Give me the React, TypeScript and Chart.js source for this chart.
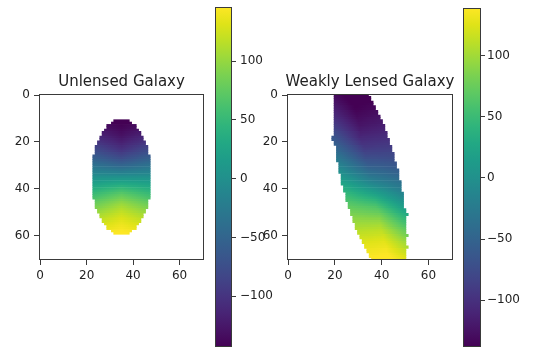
import React, { useEffect, useRef } from "react";
import { Chart, registerables } from "chart.js";

Chart.register(...registerables);

// ---------- data ----------
const axisTicks = [0, 20, 40, 60];
const colorbarTicks = [-100, -50, 0, 50, 100];
const unlensedRange = [-143.2, 146.0];
const lensedRange = [-138.5, 139.3];

// Unlensed galaxy: one entry per image row (pixel columns start..end, values at edges / centre)
const unlensedRows = [11, 12, 13, 14, 15, 16, 17, 18, 19, 20, 21, 22, 23, 24, 25, 26, 27, 28, 29, 30, 31, 32, 33, 34, 35, 36, 37, 38, 39, 40, 41, 42, 43, 44, 45, 46, 47, 48, 49, 50, 51, 52, 53, 54, 55, 56, 57, 58, 59];
const unlensedStart = [32, 31, 29, 29, 28, 27, 27, 26, 26, 25, 25, 24, 24, 24, 24, 23, 23, 23, 23, 23, 23, 23, 23, 23, 23, 23, 23, 23, 23, 23, 23, 23, 23, 23, 24, 24, 24, 24, 25, 25, 26, 26, 27, 27, 28, 29, 29, 31, 32];
const unlensedEnd = [38, 39, 41, 41, 42, 43, 43, 44, 44, 45, 45, 46, 46, 46, 46, 47, 47, 47, 47, 47, 47, 47, 47, 47, 47, 47, 47, 47, 47, 47, 47, 47, 47, 47, 46, 46, 46, 46, 45, 45, 44, 44, 43, 43, 42, 41, 41, 39, 38];
const unlensedEdge = [-145, -142, -136, -133, -128, -122, -119, -112, -108, -101, -96, -88, -83, -77, -71, -62, -56, -50, -43, -36, -29, -22, -15, -8, 0, 8, 15, 22, 29, 36, 43, 50, 56, 62, 71, 77, 83, 88, 96, 101, 108, 112, 119, 122, 128, 133, 136, 142, 145];
const unlensedMid = [-147, -145, -142, -140, -137, -134, -131, -127, -123, -119, -114, -109, -104, -98, -91, -84, -77, -69, -60, -51, -41, -31, -21, -11, 0, 11, 21, 31, 41, 51, 60, 69, 77, 84, 91, 98, 104, 109, 114, 119, 123, 127, 131, 134, 137, 140, 142, 145, 147];

// Weakly lensed galaxy
const lensedRows = [0, 1, 2, 3, 4, 5, 6, 7, 8, 9, 10, 11, 12, 13, 14, 15, 16, 17, 18, 19, 20, 21, 22, 23, 24, 25, 26, 27, 28, 29, 30, 31, 32, 33, 34, 35, 36, 37, 38, 39, 40, 41, 42, 43, 44, 45, 46, 47, 48, 49, 50, 51, 52, 53, 54, 55, 56, 57, 58, 59, 60, 61, 62, 63, 64, 65, 66, 67, 68, 69, 70];
const lensedStart = [20, 20, 20, 20, 20, 20, 20, 20, 20, 20, 20, 20, 20, 20, 20, 20, 20, 20, 19, 19, 20, 20, 21, 21, 21, 21, 21, 21, 21, 22, 22, 22, 22, 22, 23, 23, 23, 23, 23, 24, 24, 24, 25, 25, 25, 25, 26, 26, 26, 27, 27, 27, 28, 28, 28, 29, 29, 29, 30, 30, 31, 31, 32, 32, 33, 33, 34, 34, 35, 35, 36];
const lensedEnd = [34, 35, 35, 36, 36, 37, 37, 38, 38, 39, 39, 40, 40, 41, 41, 41, 42, 42, 42, 43, 43, 43, 44, 44, 44, 45, 45, 45, 45, 46, 46, 46, 47, 47, 47, 47, 47, 48, 48, 48, 48, 48, 49, 49, 49, 49, 49, 49, 49, 50, 50, 51, 50, 50, 50, 50, 50, 50, 50, 50, 51, 50, 50, 50, 50, 51, 50, 50, 50, 50, 50];
const lensedLeft = [-132, -130, -127, -125, -122, -119, -116, -112, -109, -106, -102, -98, -94, -90, -86, -82, -77, -73, -64, -60, -59, -54, -53, -48, -44, -38, -33, -28, -23, -21, -16, -11, -6, -1, 2, 8, 13, 19, 25, 29, 34, 39, 44, 49, 54, 58, 63, 67, 72, 76, 80, 84, 88, 92, 95, 99, 102, 105, 109, 112, 115, 118, 122, 124, 127, 129, 132, 134, 136, 138, 141];
const lensedMid = [-146, -145, -144, -142, -141, -139, -138, -136, -134, -132, -130, -128, -125, -124, -120, -118, -115, -112, -108, -105, -101, -98, -95, -91, -86, -82, -77, -72, -66, -63, -57, -51, -46, -40, -35, -28, -21, -16, -9, -3, 5, 13, 18, 26, 34, 42, 48, 56, 63, 67, 73, 78, 84, 90, 95, 99, 104, 108, 112, 115, 118, 122, 125, 128, 130, 132, 135, 137, 139, 141, 142];
const lensedRight = [-143, -141, -140, -138, -136, -134, -133, -129, -128, -125, -123, -120, -119, -115, -113, -111, -108, -105, -103, -100, -97, -94, -91, -88, -85, -81, -78, -75, -72, -67, -64, -60, -56, -53, -49, -45, -40, -37, -32, -28, -23, -19, -15, -11, -6, -1, 5, 11, 17, 20, 26, 29, 38, 45, 51, 56, 62, 68, 74, 79, 79, 89, 94, 99, 103, 103, 112, 115, 119, 123, 126];

// ---------- styling ----------
const VIRIDIS = [
  "#440154", "#471365", "#482475", "#463480", "#414487", "#3b528b", "#355f8d",
  "#2f6c8e", "#2a788e", "#25848e", "#21918c", "#1e9c89", "#22a884", "#2fb47c",
  "#44bf70", "#5ec962", "#7ad151", "#9bd93c", "#bddf26", "#dfe318", "#fde725",
];
const FONT = "'DejaVu Sans', 'Liberation Sans', sans-serif";
const TEXT = "#222222";
const SPINE = "#3a3a3a";

function hexToRgb(h: string) {
  const n = parseInt(h.slice(1), 16);
  return [(n >> 16) & 255, (n >> 8) & 255, n & 255];
}
const VIR_RGB = VIRIDIS.map(hexToRgb);

function viridis(t: number) {
  const c = Math.max(0, Math.min(1, t)) * (VIR_RGB.length - 1);
  const i = Math.min(VIR_RGB.length - 2, Math.floor(c));
  const f = c - i;
  const a = VIR_RGB[i];
  const b = VIR_RGB[i + 1];
  const r = Math.round(a[0] + (b[0] - a[0]) * f);
  const g = Math.round(a[1] + (b[1] - a[1]) * f);
  const bl = Math.round(a[2] + (b[2] - a[2]) * f);
  return `rgb(${r},${g},${bl})`;
}

function fmtTick(v: number) {
  return v < 0 ? "\u2212" + Math.abs(v) : String(v);
}

function framePlugin(title?: string) {
  return {
    id: "frame",
    afterDraw(chart: any) {
      const { ctx, chartArea: a } = chart;
      ctx.save();
      ctx.strokeStyle = SPINE;
      ctx.lineWidth = 1;
      const l = Math.round(a.left);
      const t = Math.round(a.top);
      const w = Math.round(a.right) - l;
      const h = Math.round(a.bottom) - t;
      ctx.strokeRect(l + 0.5, t + 0.5, w - 1, h - 1);
      if (title) {
        ctx.fillStyle = TEXT;
        ctx.font = `15px ${FONT}`;
        ctx.textAlign = "center";
        ctx.textBaseline = "alphabetic";
        ctx.fillText(title, (a.left + a.right) / 2, a.top - 8);
      }
      ctx.restore();
    },
  };
}

function panelConfig(
  rows: number[],
  starts: number[],
  ends: number[],
  lefts: number[],
  mids: number[],
  rights: number[],
  range: number[],
  title: string,
  yWidth: number,
  padRight: number
): any {
  const fixTicks = (axis: any) => {
    axis.ticks = axisTicks.map((v) => ({ value: v }));
  };
  const tickOpts = {
    font: { family: FONT, size: 12 },
    color: TEXT,
    padding: 4,
    autoSkip: false,
    maxRotation: 0,
    callback: (v: any) => fmtTick(Number(v)),
  };
  const gridOpts = {
    drawOnChartArea: false,
    drawTicks: true,
    tickLength: 5,
    color: SPINE,
    lineWidth: 1,
    offset: false,
  };
  return {
    type: "bar",
    data: {
      datasets: [
        {
          data: rows.map((r, i) => ({ y: r, x: [starts[i] - 0.5, ends[i] + 0.5] })),
          borderWidth: 0,
          inflateAmount: 0,
          categoryPercentage: 1,
          barPercentage: 1.3,
          backgroundColor: (c: any) => {
            const chart = c.chart;
            if (!chart.chartArea || c.dataIndex === undefined) return "rgba(0,0,0,0)";
            const i = c.dataIndex;
            const s = starts[i];
            const e = ends[i];
            const xs = chart.scales.x;
            const x0 = xs.getPixelForValue(s - 0.5);
            const x1 = xs.getPixelForValue(e + 0.5);
            const g = chart.ctx.createLinearGradient(x0, 0, x1, 0);
            const ax = [s, (s + e) / 2, e];
            const av = [lefts[i], mids[i], rights[i]];
            const steps = 16;
            for (let k = 0; k <= steps; k++) {
              const t = k / steps;
              const xv = s - 0.5 + t * (e - s + 1);
              let v: number;
              if (xv <= ax[0]) v = av[0];
              else if (xv >= ax[2]) v = av[2];
              else if (xv <= ax[1]) v = av[0] + ((av[1] - av[0]) * (xv - ax[0])) / (ax[1] - ax[0] || 1);
              else v = av[1] + ((av[2] - av[1]) * (xv - ax[1])) / (ax[2] - ax[1] || 1);
              g.addColorStop(t, viridis((v - range[0]) / (range[1] - range[0])));
            }
            return g;
          },
        },
      ],
    },
    options: {
      indexAxis: "y",
      responsive: false,
      maintainAspectRatio: false,
      animation: false,
      events: [],
      layout: { padding: { top: 94, left: 0, right: padRight, bottom: 4 } },
      plugins: { legend: { display: false }, tooltip: { enabled: false }, title: { display: false } },
      scales: {
        x: {
          type: "linear",
          min: -0.5,
          max: 70.5,
          offset: false,
          afterBuildTicks: fixTicks,
          afterFit: (s: any) => {
            s.height = 28;
          },
          grid: gridOpts,
          border: { display: false },
          ticks: tickOpts,
        },
        y: {
          type: "linear",
          reverse: true,
          min: -0.5,
          max: 70.5,
          offset: false,
          afterBuildTicks: fixTicks,
          afterFit: (s: any) => {
            s.width = yWidth;
          },
          grid: gridOpts,
          border: { display: false },
          ticks: tickOpts,
        },
      },
    },
    plugins: [framePlugin(title)],
  };
}

function colorbarConfig(range: number[], padTop: number, yWidth: number, labelPad: number): any {
  return {
    type: "bar",
    data: {
      labels: ["cb"],
      datasets: [
        {
          data: [[range[0], range[1]]],
          borderWidth: 0,
          inflateAmount: 0,
          categoryPercentage: 1,
          barPercentage: 1,
          backgroundColor: (c: any) => {
            const chart = c.chart;
            const a = chart.chartArea;
            if (!a) return "rgba(0,0,0,0)";
            const g = chart.ctx.createLinearGradient(0, a.bottom, 0, a.top);
            VIRIDIS.forEach((col, i) => g.addColorStop(i / (VIRIDIS.length - 1), col));
            return g;
          },
        },
      ],
    },
    options: {
      responsive: false,
      maintainAspectRatio: false,
      animation: false,
      events: [],
      layout: { padding: { top: padTop, left: 10, right: 0, bottom: 1 } },
      plugins: { legend: { display: false }, tooltip: { enabled: false }, title: { display: false } },
      scales: {
        x: { type: "category", display: false, offset: true },
        y: {
          type: "linear",
          position: "right",
          min: range[0],
          max: range[1],
          afterBuildTicks: (axis: any) => {
            axis.ticks = colorbarTicks.map((v) => ({ value: v }));
          },
          afterFit: (s: any) => {
            s.width = yWidth;
            s.paddingTop = 0;
            s.paddingBottom = 0;
          },
          grid: { drawOnChartArea: false, drawTicks: true, tickLength: 4, color: SPINE, lineWidth: 1 },
          border: { display: false },
          ticks: {
            font: { family: FONT, size: 12 },
            color: TEXT,
            padding: labelPad,
            autoSkip: false,
            callback: (v: any) => fmtTick(Number(v)),
          },
        },
      },
    },
    plugins: [framePlugin()],
  };
}

export default function App() {
  const leftRef = useRef<HTMLCanvasElement>(null);
  const leftCbRef = useRef<HTMLCanvasElement>(null);
  const rightRef = useRef<HTMLCanvasElement>(null);
  const rightCbRef = useRef<HTMLCanvasElement>(null);

  useEffect(() => {
    const charts: Chart[] = [];
    if (leftRef.current)
      charts.push(
        new Chart(
          leftRef.current,
          panelConfig(unlensedRows, unlensedStart, unlensedEnd, unlensedEdge, unlensedMid, unlensedEdge, unlensedRange, "Unlensed Galaxy", 39, 11)
        )
      );
    if (leftCbRef.current) charts.push(new Chart(leftCbRef.current, colorbarConfig(unlensedRange, 7, 53, 4)));
    if (rightRef.current)
      charts.push(
        new Chart(
          rightRef.current,
          panelConfig(lensedRows, lensedStart, lensedEnd, lensedLeft, lensedMid, lensedRight, lensedRange, "Weakly Lensed Galaxy", 47, 12)
        )
      );
    if (rightCbRef.current) charts.push(new Chart(rightCbRef.current, colorbarConfig(lensedRange, 8, 52, 2)));
    return () => charts.forEach((c) => c.destroy());
  }, []);

  const abs = (left: number, top: number, w: number, h: number): React.CSSProperties => ({
    position: "absolute",
    left,
    top,
    width: w,
    height: h,
  });

  return (
    <div style={{ position: "fixed", left: 0, top: 0, width: 533, height: 348, background: "#ffffff", overflow: "hidden" }}>
      <canvas ref={leftRef} width={215} height={292} style={abs(0, 0, 215, 292)} />
      <canvas ref={leftCbRef} width={80} height={348} style={abs(205, 0, 80, 348)} />
      <canvas ref={rightRef} width={225} height={292} style={abs(240, 0, 225, 292)} />
      <canvas ref={rightCbRef} width={80} height={348} style={abs(453, 0, 80, 348)} />
    </div>
  );
}
